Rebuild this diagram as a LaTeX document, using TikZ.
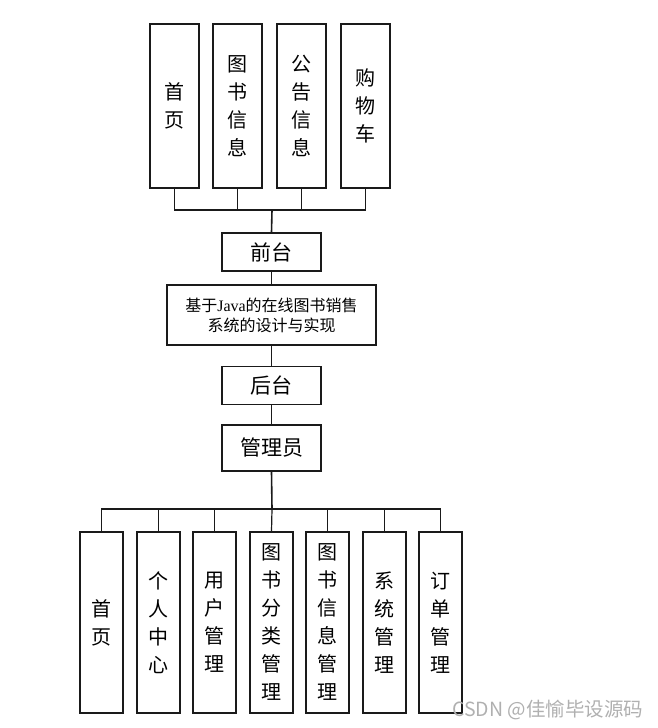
\documentclass[tikz,border=0pt]{standalone}
\usepackage{fontspec}
\setmainfont{Liberation Serif}
\newfontfamily\cjk{Noto Sans CJK SC}
\usepackage{tikz}
\usetikzlibrary{positioning,calc}
\definecolor{LineBlack}{HTML}{1A1A1A}
\definecolor{MarkGray}{HTML}{B0B0B0}

\begin{document}
\begin{tikzpicture}[
  x=1pt,y=-1pt,
  box/.style={rectangle,draw=LineBlack,line width=1.2pt,fill=white,inner sep=0pt,
              align=center,font=\cjk\fontsize{20}{28}\selectfont},
  tall/.style={box,minimum width=49pt,minimum height=164pt},
  low/.style={box,minimum width=43pt,minimum height=181pt},
  tier/.style={box,minimum width=99pt,minimum height=38pt,font=\cjk\fontsize{21}{24}\selectfont},
  title/.style={box,minimum width=209pt,minimum height=60pt,font=\cjk\fontsize{16}{20}\selectfont},
  link/.style={draw=LineBlack,line width=1.2pt}
]
\useasboundingbox (0,0) rectangle (658,728);

%% Front end
\node[tall] (home)   at (174.5,106) {首\\页};
\node[tall] (book)   at (237.5,106) {图\\书\\信\\息};
\node[tall] (notice) at (301.5,106) {公\\告\\信\\息};
\node[tall] (cart)   at (365.5,106) {购\\物\\车};

%% Middle chain
\node[tier]  (front) at (271.5,252)   {前台};
\node[title] (sys)   at (271.5,315)   {基于{\rmfamily Java}的在线图书销售\\系统的设计与实现};
\node[tier]  (back)  at (271.5,385.5) {后台};
\node[tier,minimum height=46pt] (admin) at (271.5,448) {管理员};

%% Back end
\node[low] (ahome)  at (101.5,622.5) {首\\页};
\node[low] (center) at (158.5,622.5) {个\\人\\中\\心};
\node[low] (user)   at (214.5,622.5) {用\\户\\管\\理};
\node[low] (cat)    at (271.5,622.5) {图\\书\\分\\类\\管\\理};
\node[low] (binfo)  at (327.5,622.5) {图\\书\\信\\息\\管\\理};
\node[low] (sysm)   at (384.5,622.5) {系\\统\\管\\理};
\node[low] (order)  at (440.5,622.5) {订\\单\\管\\理};

%% Buses
\coordinate (topbus) at (272,210);
\coordinate (botbus) at (272,509);

%% Connectors
\draw[link] (home.south) |- (topbus);
\draw[link] (book.south) |- (topbus);
\draw[link] (notice.south) |- (topbus);
\draw[link] (cart.south) |- (topbus);
\draw[link,line width=1.6pt] (topbus) -- (front.north);
\draw[link] (front.south) -- (sys.north);
\draw[link] (sys.south) -- (back.north);
\draw[link] (back.south) -- (admin.north);
\draw[link,line width=1.6pt] (admin.south) -- (botbus);
\draw[link] (botbus) -| (ahome.north);
\draw[link] (botbus) -| (center.north);
\draw[link] (botbus) -| (user.north);
\draw[link] (botbus) -- (cat.north);
\draw[link] (botbus) -| (binfo.north);
\draw[link] (botbus) -| (sysm.north);
\draw[link] (botbus) -| (order.north);

\node[anchor=west,inner sep=0pt,text=MarkGray,font=\cjk\fontsize{19.5}{19.5}\selectfont]
  (mark) at (452,710) {CSDN @佳愉毕设源码};

\end{tikzpicture}
\end{document}
